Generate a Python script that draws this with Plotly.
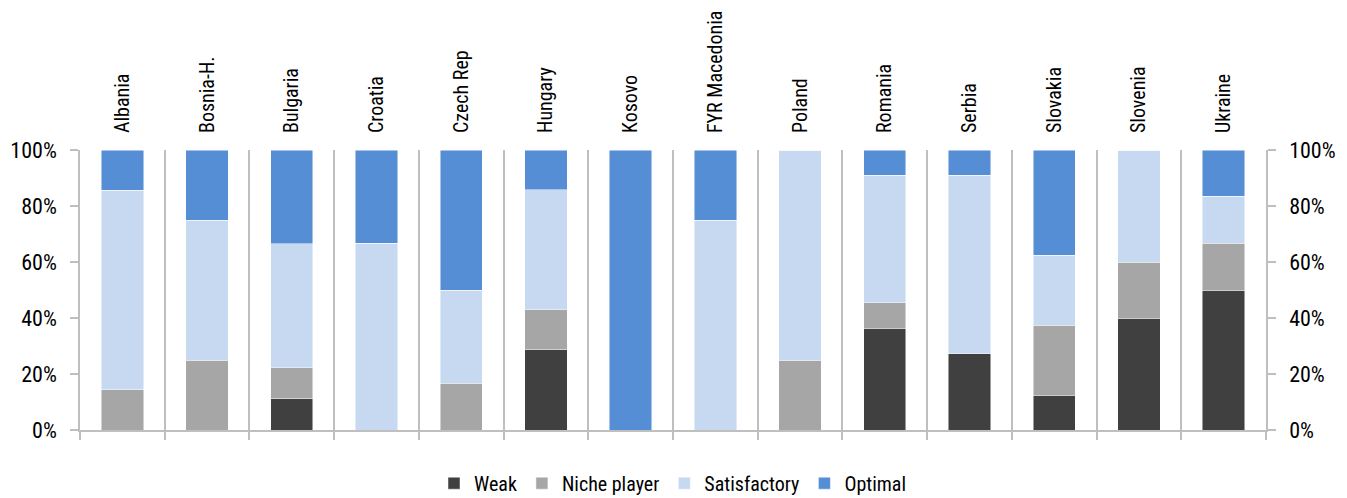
import plotly.graph_objects as go

countries = ["Albania", "Bosnia-H.", "Bulgaria", "Croatia", "Czech Rep", "Hungary", "Kosovo",
             "FYR Macedonia", "Poland", "Romania", "Serbia", "Slovakia", "Slovenia", "Ukraine"]
weak =         [0.0, 0.0, 11.1, 0.0, 0.0, 28.6, 0.0, 0.0, 0.0, 36.4, 27.3, 12.5, 40.0, 50.0]
niche =        [14.3, 25.0, 11.1, 0.0, 16.7, 14.3, 0.0, 0.0, 25.0, 9.1, 0.0, 25.0, 20.0, 16.7]
satisfactory = [71.4, 50.0, 44.4, 66.7, 33.3, 42.9, 0.0, 75.0, 75.0, 45.5, 63.6, 25.0, 40.0, 16.7]
optimal =      [14.3, 25.0, 33.3, 33.3, 50.0, 14.2, 100.0, 25.0, 0.0, 9.0, 9.1, 37.5, 0.0, 16.6]
y_ticks = [0, 20, 40, 60, 80, 100]
y_tick_labels = ["0%", "20%", "40%", "60%", "80%", "100%"]

series = [("Weak", weak, "#404040"), ("Niche player", niche, "#a6a6a6"),
          ("Satisfactory", satisfactory, "#c6d9f0"), ("Optimal", optimal, "#558ed5")]

FONT = "Roboto Condensed, Liberation Sans Narrow, sans-serif"
GRAY = "#bfbfbf"

fig = go.Figure()
for name, vals, col in series:
    fig.add_trace(go.Bar(x=countries, y=vals, name=name, marker_color=col,
                         marker_line=dict(color="rgba(255,255,255,0.6)", width=0.8)))

n = len(countries)
bounds = [i - 0.5 for i in range(n + 1)]
# invisible helper trace for the separator axis and the right y axis
fig.add_trace(go.Scatter(x=[bounds[0], bounds[-1]], y=[0, 100], xaxis="x2", yaxis="y2",
                         mode="markers", marker_opacity=0, showlegend=False, hoverinfo="skip"))

fig.update_layout(
    barmode="stack", bargap=0.5,
    width=1347, height=498,
    margin=dict(l=72, r=89, t=142, b=76, autoexpand=False),
    paper_bgcolor="white", plot_bgcolor="white",
    font=dict(family=FONT, size=22, color="#000000"),
    legend=dict(orientation="h", x=0.5, xanchor="center", y=-0.19, yanchor="middle",
                font=dict(size=20), itemwidth=30, traceorder="normal"),
    xaxis=dict(side="top", tickangle=-90, showline=False, ticks="", showgrid=False,
               range=[bounds[0], bounds[-1]], ticklabelstandoff=16, automargin=False,
               tickfont=dict(size=20)),
    xaxis2=dict(overlaying="x", side="bottom", range=[bounds[0], bounds[-1]],
                tickvals=bounds, showticklabels=False, showgrid=True, gridcolor=GRAY,
                gridwidth=1.5, ticks="outside", ticklen=8, tickcolor=GRAY, tickwidth=1.5,
                showline=True, linecolor=GRAY, linewidth=1.5, zeroline=False, automargin=False),
    yaxis=dict(range=[0, 100], tickvals=y_ticks, ticktext=y_tick_labels, showgrid=False,
               showline=True, linecolor=GRAY, linewidth=1.5, ticks="outside", ticklen=8,
               tickcolor=GRAY, tickwidth=1.5, zeroline=False, ticklabelstandoff=9,
               automargin=False),
    yaxis2=dict(overlaying="y", side="right", range=[0, 100], tickvals=y_ticks,
                ticktext=y_tick_labels, showgrid=False, showline=True, linecolor=GRAY,
                linewidth=1.5, ticks="outside", ticklen=8, tickcolor=GRAY, tickwidth=1.5,
                zeroline=False, ticklabelstandoff=9, automargin=False),
)

fig.write_html("out.html")
